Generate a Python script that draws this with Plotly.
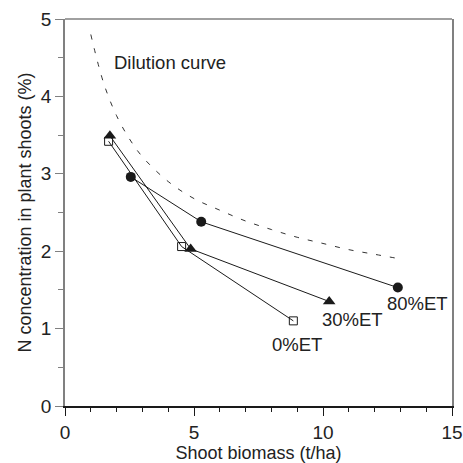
import plotly.graph_objects as go

# Data
et80_x = [2.55, 5.28, 12.9]
et80_y = [2.96, 2.38, 1.53]
et30_x = [1.74, 4.87, 10.24]
et30_y = [3.49, 2.03, 1.35]
et0_x = [1.69, 4.52, 8.85]
et0_y = [3.42, 2.06, 1.10]

dil_x = [1.0, 1.5, 2.0, 2.5, 3.0, 4.0, 5.0, 6.0, 7.0, 8.0, 9.0, 10.0, 11.0, 12.0, 13.0]
dil_y = [4.80, 4.17, 3.75, 3.45, 3.22, 2.90, 2.68, 2.53, 2.39, 2.28, 2.18, 2.10, 2.02, 1.96, 1.90]

labels = ["80%ET", "30%ET", "0%ET", "Dilution curve"]
label_x = [13.68, 11.16, 8.99, 4.07]
label_y = [1.32, 1.12, 0.80, 4.44]

x_ticks = [0, 5, 10, 15]
y_ticks = [0, 1, 2, 3, 4, 5]

FONT = "Liberation Sans, Arial, sans-serif"
TXT = "#222222"

fig = go.Figure()

fig.add_trace(go.Scatter(x=dil_x, y=dil_y, mode="lines",
                         line=dict(color="#333333", width=1, dash="5px,9px", shape="spline"),
                         hoverinfo="skip"))

fig.add_trace(go.Scatter(x=et80_x, y=et80_y, mode="lines+markers",
                         line=dict(color="#1a1a1a", width=1),
                         marker=dict(symbol="circle", size=10, color="#1a1a1a")))
fig.add_trace(go.Scatter(x=et30_x, y=et30_y, mode="lines+markers",
                         line=dict(color="#1a1a1a", width=1),
                         marker=dict(symbol="triangle-up", size=11, color="#1a1a1a")))
fig.add_trace(go.Scatter(x=et0_x, y=et0_y, mode="lines+markers",
                         line=dict(color="#1a1a1a", width=1),
                         marker=dict(symbol="square-open", size=8, color="#1a1a1a",
                                     line=dict(width=1))))

for t, lx, ly in zip(labels, label_x, label_y):
    fig.add_annotation(x=lx, y=ly, text=t, showarrow=False,
                       font=dict(family=FONT, size=18.5, color=TXT),
                       xanchor="center", yanchor="middle")

# top frame line (grey)
fig.add_shape(type="line", xref="paper", yref="paper", x0=0, x1=1, y0=1, y1=1,
              line=dict(color="#808080", width=1.5))

fig.update_layout(
    width=463, height=463,
    margin=dict(l=65, r=11, t=19, b=57),
    paper_bgcolor="white", plot_bgcolor="white",
    showlegend=False,
    font=dict(family=FONT, size=18, color=TXT),
    xaxis=dict(range=[0, 15], tickvals=x_ticks, ticks="outside", ticklen=8,
               tickcolor="#1a1a1a", tickwidth=1, automargin=False,
               showline=True, linecolor="#1a1a1a", linewidth=1.5,
               showgrid=False, zeroline=False,
               minor=dict(dtick=1, ticks="outside", ticklen=4, tickcolor="#1a1a1a", tickwidth=1, showgrid=False),
               title=dict(text="Shoot biomass (t/ha)", standoff=0,
                          font=dict(family=FONT, size=18, color=TXT)),
               tickfont=dict(family=FONT, size=19, color=TXT)),
    yaxis=dict(range=[0, 5], tickvals=y_ticks, ticks="outside", ticklen=8,
               tickcolor="#808080", tickwidth=1, automargin=False,
               showline=True, linecolor="#808080", linewidth=1.5, mirror=True,
               showgrid=False, zeroline=False,
               minor=dict(dtick=0.5, ticks="outside", ticklen=5, tickcolor="#808080", tickwidth=1, showgrid=False),
               title=dict(text="N concentration in plant shoots (%)", standoff=5,
                          font=dict(family=FONT, size=18, color=TXT)),
               tickfont=dict(family=FONT, size=19, color=TXT)),
)

fig.write_html("out.html", config={"displayModeBar": False},
               post_script="document.body.style.margin='0';document.body.style.overflow='hidden';")
